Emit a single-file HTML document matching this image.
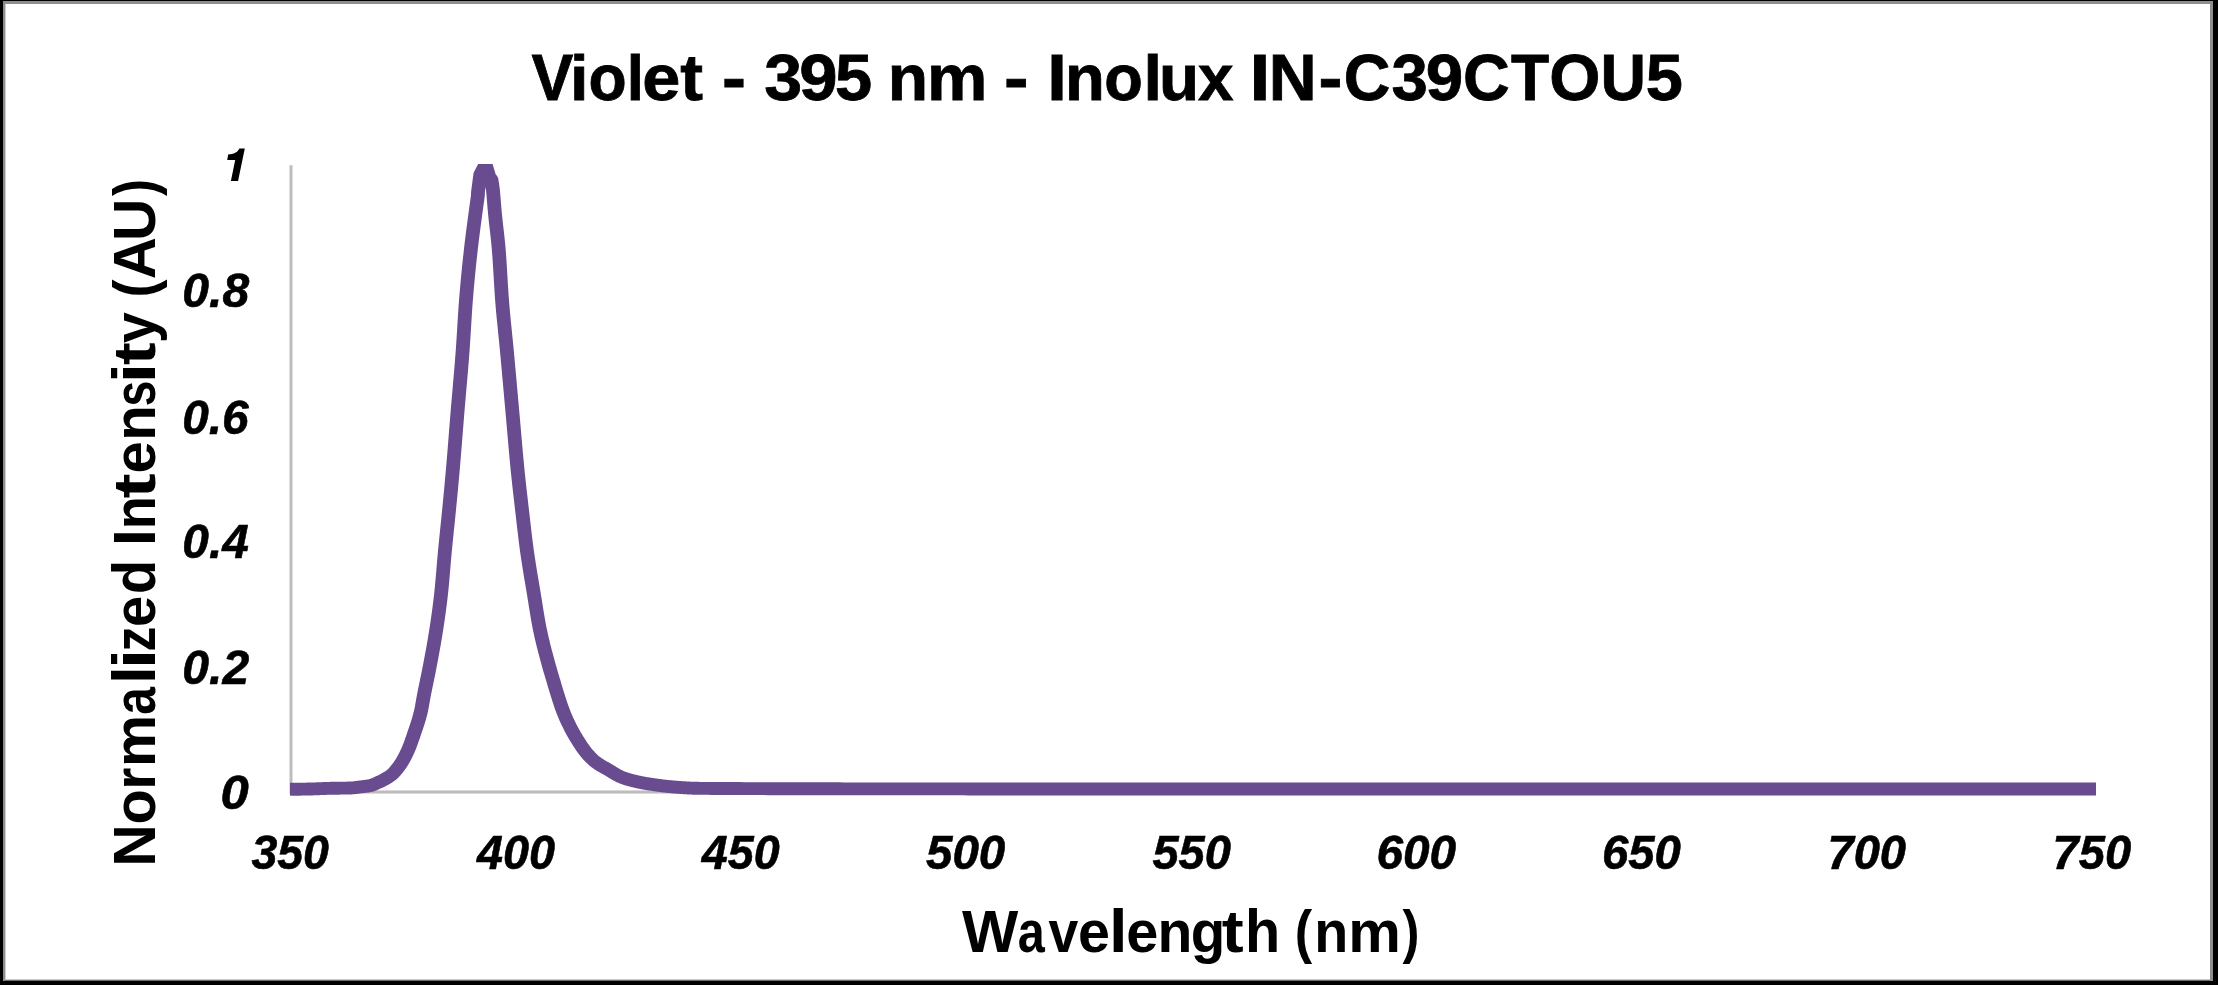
<!DOCTYPE html>
<html><head><meta charset="utf-8"><style>
html,body{margin:0;padding:0;background:#000;}
body{width:2218px;height:985px;overflow:hidden;position:relative;}
svg{position:absolute;left:0;top:0;display:block;will-change:transform;}
text{font-family:"Liberation Sans",sans-serif;fill:#000;}
</style></head><body>
<svg width="2218" height="985" viewBox="0 0 2218 985">
<rect x="0" y="0" width="2218" height="985" fill="#000"/>
<rect x="3" y="1" width="2210" height="980" fill="#8e8e8e"/>
<rect x="5" y="4" width="2205" height="976" fill="#fff"/>
<rect x="5" y="4" width="1" height="976" fill="#cfcfcf"/>
<rect x="5" y="979" width="2205" height="1" fill="#c8c8c8"/>
<rect x="5" y="980" width="2205" height="1" fill="#707070"/>
<defs><clipPath id="pa"><rect x="285" y="164.1" width="1830" height="640"/></clipPath></defs>
<g fill="none"><path d="M291,165 V792 H2092" stroke="#e4e4e4" stroke-width="3.8"/>
<path d="M291,165.5 V792 H2092" stroke="#bdbdbd" stroke-width="2.3"/></g>
<g clip-path="url(#pa)"><path transform="scale(1.07,1)" d="M271.03,789.30 L271.50,789.30 L271.96,789.29 L272.43,789.29 L272.90,789.29 L273.36,789.28 L273.83,789.28 L274.30,789.27 L274.77,789.27 L275.23,789.26 L275.70,789.26 L276.17,789.25 L276.64,789.25 L277.10,789.24 L277.57,789.23 L278.04,789.23 L278.50,789.22 L278.97,789.21 L279.44,789.20 L279.91,789.20 L280.37,789.19 L281.21,789.18 L281.68,789.17 L282.15,789.16 L282.62,789.15 L283.08,789.15 L283.55,789.14 L284.02,789.13 L284.49,789.12 L284.95,789.11 L285.42,789.10 L285.89,789.09 L286.36,789.08 L286.82,789.07 L287.29,789.06 L287.76,789.05 L288.22,789.04 L288.69,789.03 L289.16,789.02 L289.63,789.01 L290.09,789.00 L290.56,788.99 L291.03,788.98 L291.50,788.96 L291.96,788.95 L292.43,788.94 L292.90,788.92 L293.36,788.91 L293.83,788.89 L294.30,788.87 L294.77,788.86 L295.23,788.84 L295.70,788.82 L296.17,788.80 L296.64,788.78 L297.10,788.76 L297.57,788.74 L298.04,788.72 L298.50,788.70 L298.97,788.68 L299.44,788.66 L299.91,788.64 L300.37,788.62 L300.84,788.60 L301.31,788.58 L301.78,788.56 L302.24,788.54 L302.71,788.52 L303.18,788.50 L303.64,788.48 L304.11,788.46 L304.58,788.45 L305.05,788.43 L305.51,788.41 L305.98,788.39 L306.45,788.38 L306.92,788.36 L307.38,788.35 L307.85,788.34 L308.32,788.32 L308.79,788.31 L309.25,788.30 L309.72,788.29 L310.19,788.28 L310.65,788.27 L311.12,788.26 L311.59,788.25 L312.06,788.25 L312.52,788.24 L312.99,788.23 L313.46,788.23 L313.93,788.22 L314.39,788.21 L314.86,788.21 L315.33,788.20 L315.79,788.20 L316.26,788.19 L316.73,788.19 L317.20,788.18 L317.66,788.18 L318.13,788.17 L318.60,788.17 L319.07,788.16 L319.53,788.16 L320.00,788.15 L320.47,788.14 L320.93,788.14 L321.40,788.13 L321.87,788.12 L322.34,788.12 L322.80,788.11 L323.27,788.10 L323.74,788.09 L324.21,788.08 L324.67,788.07 L325.14,788.06 L325.61,788.05 L326.07,788.04 L326.54,788.03 L327.01,788.01 L327.48,788.00 L327.94,787.98 L328.41,787.96 L328.88,787.93 L329.35,787.89 L329.81,787.85 L330.28,787.81 L330.75,787.76 L331.21,787.70 L331.68,787.64 L332.15,787.58 L332.62,787.52 L333.08,787.46 L333.55,787.39 L334.02,787.32 L334.49,787.25 L334.95,787.19 L335.42,787.12 L335.89,787.05 L336.36,786.98 L336.82,786.91 L337.29,786.85 L337.76,786.79 L338.22,786.73 L338.69,786.67 L339.16,786.61 L339.63,786.56 L340.09,786.50 L340.56,786.44 L341.03,786.39 L341.50,786.33 L341.96,786.27 L342.43,786.21 L342.90,786.14 L343.36,786.07 L343.83,786.00 L344.30,785.92 L344.77,785.84 L345.23,785.75 L345.70,785.66 L346.17,785.56 L346.64,785.46 L347.10,785.33 L347.57,785.17 L348.04,785.00 L348.50,784.81 L348.97,784.61 L349.44,784.39 L349.91,784.17 L350.37,783.94 L350.84,783.71 L351.31,783.47 L351.78,783.25 L352.24,783.02 L352.71,782.79 L353.18,782.57 L353.64,782.34 L354.11,782.11 L354.58,781.89 L355.05,781.65 L355.51,781.42 L355.98,781.18 L356.45,780.95 L356.92,780.70 L357.38,780.46 L357.85,780.20 L358.32,779.95 L358.79,779.69 L359.25,779.42 L359.72,779.15 L360.19,778.87 L360.65,778.59 L361.12,778.29 L361.59,777.99 L362.06,777.68 L362.52,777.37 L362.99,777.04 L363.46,776.71 L363.93,776.37 L364.39,776.01 L364.86,775.65 L365.33,775.28 L365.79,774.89 L366.26,774.47 L366.73,774.03 L367.20,773.57 L367.66,773.08 L368.13,772.57 L368.60,772.04 L369.07,771.49 L369.53,770.93 L370.00,770.34 L370.47,769.74 L370.93,769.11 L371.40,768.48 L371.87,767.83 L372.34,767.16 L372.80,766.49 L373.27,765.80 L373.74,765.10 L374.21,764.38 L374.67,763.63 L375.14,762.86 L375.61,762.05 L376.07,761.22 L376.54,760.36 L377.01,759.48 L377.48,758.57 L377.94,757.63 L378.41,756.67 L378.88,755.69 L379.35,754.68 L379.81,753.65 L380.28,752.60 L380.75,751.53 L381.21,750.44 L381.68,749.32 L382.15,748.14 L382.62,746.91 L383.08,745.62 L383.55,744.28 L384.02,742.91 L384.49,741.51 L384.95,740.08 L385.42,738.63 L385.89,737.17 L386.36,735.71 L386.82,734.24 L387.29,732.78 L387.76,731.33 L388.22,729.88 L388.69,728.42 L389.16,726.95 L389.63,725.44 L390.09,723.90 L390.56,722.32 L391.03,720.67 L391.50,718.98 L391.96,717.26 L392.43,715.47 L392.90,713.58 L393.36,711.52 L393.83,709.25 L394.30,706.55 L394.77,703.61 L395.23,700.66 L395.70,697.94 L396.17,695.33 L396.64,692.78 L397.10,690.27 L397.57,687.80 L398.04,685.36 L398.50,682.94 L398.97,680.52 L399.44,678.10 L399.91,675.66 L400.37,673.20 L400.84,670.70 L401.31,668.16 L401.78,665.56 L402.24,662.91 L402.71,660.26 L403.18,657.60 L403.64,654.93 L404.11,652.24 L404.58,649.51 L405.05,646.74 L405.51,643.92 L405.98,641.04 L406.45,638.08 L406.92,635.05 L407.38,631.92 L407.85,628.70 L408.32,625.42 L408.79,622.08 L409.25,618.65 L409.72,615.12 L410.19,611.47 L410.65,607.69 L411.12,603.76 L411.59,599.66 L412.06,595.37 L412.52,590.88 L412.99,585.88 L413.46,580.38 L413.93,574.54 L414.39,568.54 L414.86,562.54 L415.33,556.70 L415.79,551.20 L416.26,546.02 L416.73,540.99 L417.20,536.08 L417.66,531.24 L418.13,526.42 L418.60,521.57 L419.07,516.66 L419.53,511.62 L420.00,506.48 L420.47,501.31 L420.93,496.10 L421.40,490.83 L421.87,485.49 L422.34,480.06 L422.80,474.52 L423.27,468.85 L423.74,463.02 L424.21,457.01 L424.67,450.88 L425.14,444.65 L425.61,438.36 L426.07,432.05 L426.54,425.75 L427.01,419.50 L427.48,413.34 L427.94,407.30 L428.41,401.41 L428.88,395.65 L429.35,389.94 L429.81,384.24 L430.28,378.49 L430.75,372.65 L431.21,366.66 L431.68,360.46 L432.15,354.01 L432.62,347.21 L433.08,339.67 L433.55,331.60 L434.02,323.34 L434.49,315.23 L434.95,307.60 L435.42,300.80 L435.89,294.67 L436.36,288.82 L436.82,283.21 L437.29,277.84 L437.76,272.68 L438.22,267.70 L438.69,262.87 L439.16,258.18 L439.63,253.60 L440.09,249.11 L440.56,244.77 L441.03,240.59 L441.50,236.54 L441.96,232.61 L442.43,228.77 L442.90,224.99 L443.36,221.24 L443.83,217.50 L444.30,213.75 L444.77,210.01 L445.23,206.35 L445.70,202.74 L446.17,199.15 L446.64,195.54 L446.73,191.87 L446.78,191.50 L448.88,174.50 L453.83,164.50 L457.29,177.00 L459.35,180.00 L460.56,188.70 L460.75,190.50 L461.21,195.95 L461.68,202.17 L462.15,208.44 L462.62,214.04 L463.08,218.96 L463.55,223.51 L464.02,227.86 L464.49,232.17 L464.95,236.62 L465.42,241.37 L465.89,246.58 L466.36,252.48 L466.82,259.55 L467.29,267.51 L467.76,275.93 L468.22,284.36 L468.69,292.37 L469.16,299.51 L469.63,305.69 L470.09,311.44 L470.56,316.84 L471.03,322.00 L471.50,326.98 L471.96,331.87 L472.43,336.75 L472.90,341.71 L473.36,346.82 L473.83,352.16 L474.30,357.58 L474.77,363.05 L475.23,368.55 L475.70,374.09 L476.17,379.65 L476.64,385.22 L477.10,390.81 L477.57,396.40 L478.04,401.99 L478.50,407.56 L478.97,413.13 L479.44,418.78 L479.91,424.51 L480.37,430.27 L480.84,436.05 L481.31,441.80 L481.78,447.49 L482.24,453.09 L482.71,458.56 L483.18,463.88 L483.64,469.00 L484.11,473.93 L484.58,478.71 L485.05,483.36 L485.51,487.90 L485.98,492.36 L486.45,496.75 L486.92,501.10 L487.38,505.42 L487.85,509.74 L488.32,514.07 L488.79,518.42 L489.25,522.77 L489.72,527.10 L490.19,531.38 L490.65,535.58 L491.12,539.69 L491.59,543.68 L492.06,547.52 L492.52,551.20 L492.99,554.72 L493.46,558.13 L493.93,561.44 L494.39,564.66 L494.86,567.80 L495.33,570.88 L495.79,573.92 L496.26,576.91 L496.73,579.88 L497.20,582.85 L497.66,585.81 L498.13,588.79 L498.60,591.80 L499.07,594.85 L499.53,597.94 L500.00,601.06 L500.47,604.18 L500.93,607.29 L501.40,610.38 L501.87,613.43 L502.34,616.42 L502.80,619.34 L503.27,622.18 L503.74,624.91 L504.21,627.52 L504.67,630.00 L505.14,632.37 L505.61,634.67 L506.07,636.91 L506.54,639.08 L507.01,641.21 L507.48,643.28 L507.94,645.31 L508.41,647.29 L508.88,649.24 L509.35,651.16 L509.81,653.06 L510.28,654.93 L510.75,656.79 L511.21,658.63 L511.68,660.46 L512.15,662.30 L512.62,664.13 L513.08,665.96 L513.55,667.74 L514.02,669.50 L514.49,671.23 L514.95,672.93 L515.42,674.62 L515.89,676.30 L516.36,677.98 L516.82,679.66 L517.29,681.35 L517.76,683.04 L518.22,684.72 L518.69,686.40 L519.16,688.06 L519.63,689.72 L520.09,691.35 L520.56,692.97 L521.03,694.57 L521.50,696.15 L521.96,697.73 L522.43,699.31 L522.90,700.88 L523.36,702.43 L523.83,703.96 L524.30,705.46 L524.77,706.93 L525.23,708.34 L525.70,709.71 L526.17,711.02 L526.64,712.29 L527.10,713.54 L527.57,714.75 L528.04,715.95 L528.50,717.11 L528.97,718.26 L529.44,719.38 L529.91,720.48 L530.37,721.56 L530.84,722.62 L531.31,723.66 L531.78,724.69 L532.24,725.70 L532.71,726.70 L533.18,727.68 L533.64,728.64 L534.11,729.59 L534.58,730.53 L535.05,731.45 L535.51,732.36 L535.98,733.26 L536.45,734.14 L536.92,735.01 L537.38,735.87 L537.85,736.72 L538.32,737.55 L538.79,738.38 L539.25,739.20 L539.72,740.00 L540.19,740.80 L540.65,741.59 L541.12,742.38 L541.59,743.16 L542.06,743.94 L542.52,744.71 L542.99,745.47 L543.46,746.22 L543.93,746.95 L544.39,747.68 L544.86,748.39 L545.33,749.09 L545.79,749.78 L546.26,750.44 L546.73,751.09 L547.20,751.73 L547.66,752.34 L548.13,752.94 L548.60,753.52 L549.07,754.10 L549.53,754.67 L550.00,755.23 L550.47,755.78 L550.93,756.32 L551.40,756.85 L551.87,757.37 L552.34,757.88 L552.80,758.38 L553.27,758.87 L553.74,759.35 L554.21,759.81 L554.67,760.26 L555.14,760.70 L555.61,761.12 L556.07,761.53 L556.54,761.92 L557.01,762.30 L557.48,762.67 L557.94,763.03 L558.41,763.38 L558.88,763.72 L559.35,764.05 L559.81,764.37 L560.28,764.69 L560.75,765.00 L561.21,765.30 L561.68,765.60 L562.15,765.90 L562.62,766.18 L563.08,766.47 L563.55,766.75 L564.02,767.04 L564.49,767.31 L564.95,767.59 L565.42,767.87 L565.89,768.15 L566.36,768.43 L566.82,768.71 L567.29,769.00 L567.76,769.28 L568.22,769.57 L568.69,769.87 L569.16,770.17 L569.63,770.47 L570.09,770.77 L570.56,771.07 L571.03,771.38 L571.50,771.69 L571.96,771.99 L572.43,772.30 L572.90,772.60 L573.36,772.91 L573.83,773.21 L574.30,773.51 L574.77,773.80 L575.23,774.10 L575.70,774.39 L576.17,774.67 L576.64,774.95 L577.10,775.23 L577.57,775.50 L578.04,775.76 L578.50,776.01 L578.97,776.26 L579.44,776.50 L579.91,776.73 L580.37,776.95 L580.84,777.17 L581.31,777.37 L581.78,777.56 L582.24,777.75 L582.71,777.93 L583.18,778.10 L583.64,778.28 L584.11,778.45 L584.58,778.61 L585.05,778.77 L585.51,778.93 L585.98,779.09 L586.45,779.24 L586.92,779.39 L587.38,779.54 L587.85,779.69 L588.32,779.83 L588.79,779.97 L589.25,780.11 L589.72,780.24 L590.19,780.37 L590.65,780.50 L591.12,780.63 L591.59,780.76 L592.06,780.88 L592.52,781.00 L592.99,781.12 L593.46,781.24 L593.93,781.36 L594.39,781.47 L594.86,781.59 L595.33,781.70 L595.79,781.81 L596.26,781.92 L596.73,782.03 L597.20,782.14 L597.66,782.24 L598.13,782.35 L598.60,782.45 L599.07,782.55 L599.53,782.65 L600.00,782.75 L600.47,782.84 L600.93,782.94 L601.40,783.03 L601.87,783.12 L602.34,783.21 L602.80,783.30 L603.27,783.38 L603.74,783.47 L604.21,783.55 L604.67,783.63 L605.14,783.71 L605.61,783.79 L606.07,783.87 L606.54,783.95 L607.01,784.02 L607.48,784.10 L607.94,784.17 L608.41,784.25 L608.88,784.32 L609.35,784.40 L609.81,784.47 L610.28,784.54 L610.75,784.62 L611.21,784.69 L611.68,784.76 L612.15,784.83 L612.62,784.91 L613.08,784.98 L613.55,785.05 L614.02,785.12 L614.49,785.19 L614.95,785.26 L615.42,785.32 L615.89,785.39 L616.36,785.46 L616.82,785.52 L617.29,785.59 L617.76,785.65 L618.22,785.72 L618.69,785.78 L619.16,785.84 L619.63,785.91 L620.09,785.97 L620.56,786.03 L621.03,786.08 L621.50,786.14 L621.96,786.20 L622.43,786.25 L622.90,786.31 L623.36,786.36 L623.83,786.41 L624.30,786.46 L624.77,786.51 L625.23,786.56 L625.70,786.61 L626.17,786.65 L626.64,786.70 L627.10,786.74 L627.57,786.78 L628.04,786.82 L628.50,786.86 L628.97,786.91 L629.44,786.95 L629.91,786.99 L630.37,787.03 L630.84,787.07 L631.31,787.11 L631.78,787.15 L632.24,787.19 L632.71,787.23 L633.18,787.27 L633.64,787.31 L634.11,787.34 L634.58,787.38 L635.05,787.42 L635.51,787.46 L635.98,787.50 L636.45,787.53 L636.92,787.57 L637.38,787.60 L637.85,787.64 L638.32,787.67 L638.79,787.71 L639.25,787.74 L639.72,787.78 L640.19,787.81 L640.65,787.84 L641.12,787.87 L641.59,787.90 L642.06,787.93 L642.52,787.96 L642.99,787.98 L643.46,788.01 L643.93,788.04 L644.39,788.06 L644.86,788.09 L645.33,788.11 L645.79,788.13 L646.26,788.15 L646.73,788.17 L647.20,788.19 L647.66,788.21 L648.13,788.22 L648.60,788.24 L649.07,788.25 L649.53,788.26 L650.00,788.27 L650.47,788.28 L650.93,788.29 L651.40,788.30 L651.87,788.30 L652.34,788.31 L652.80,788.32 L653.27,788.32 L653.74,788.33 L654.21,788.33 L657.94,788.37 L661.68,788.41 L665.42,788.44 L669.16,788.47 L672.90,788.49 L676.64,788.51 L680.37,788.53 L684.11,788.54 L687.85,788.56 L691.59,788.57 L695.33,788.59 L699.07,788.60 L702.80,788.62 L706.54,788.63 L710.28,788.65 L714.02,788.66 L717.76,788.68 L721.50,788.69 L725.23,788.70 L728.97,788.72 L732.71,788.73 L736.45,788.74 L740.19,788.75 L743.93,788.76 L747.66,788.77 L751.40,788.78 L755.14,788.79 L758.88,788.79 L762.62,788.80 L766.36,788.80 L770.09,788.81 L773.83,788.81 L777.57,788.81 L781.31,788.82 L785.05,788.82 L788.79,788.83 L792.52,788.83 L796.26,788.83 L800.00,788.84 L803.74,788.84 L807.48,788.84 L811.21,788.85 L814.95,788.85 L818.69,788.86 L822.43,788.86 L826.17,788.86 L829.91,788.87 L833.64,788.87 L837.38,788.87 L841.12,788.88 L844.86,788.88 L848.60,788.88 L852.34,788.89 L856.07,788.89 L859.81,788.89 L863.55,788.90 L867.29,788.90 L871.03,788.90 L874.77,788.90 L878.50,788.91 L882.24,788.91 L885.98,788.91 L889.72,788.92 L893.46,788.92 L897.20,788.92 L900.93,788.92 L904.67,788.93 L908.41,788.93 L912.15,788.93 L915.89,788.93 L919.63,788.94 L923.36,788.94 L927.10,788.94 L930.84,788.94 L934.58,788.95 L938.32,788.95 L942.06,788.95 L945.79,788.95 L949.53,788.95 L953.27,788.96 L957.01,788.96 L960.75,788.96 L964.49,788.96 L968.22,788.96 L971.96,788.96 L975.70,788.97 L979.44,788.97 L983.18,788.97 L986.92,788.97 L990.65,788.97 L994.39,788.97 L998.13,788.98 L1001.87,788.98 L1005.61,788.98 L1009.35,788.98 L1013.08,788.98 L1016.82,788.98 L1020.56,788.98 L1024.30,788.99 L1028.04,788.99 L1031.78,788.99 L1035.51,788.99 L1039.25,788.99 L1042.99,788.99 L1046.73,788.99 L1050.47,788.99 L1054.21,788.99 L1057.94,788.99 L1061.68,788.99 L1065.42,789.00 L1069.16,789.00 L1072.90,789.00 L1076.64,789.00 L1080.37,789.00 L1084.11,789.00 L1087.85,789.00 L1091.59,789.00 L1095.33,789.00 L1099.07,789.00 L1102.80,789.00 L1106.54,789.00 L1110.28,789.00 L1114.02,789.00 L1117.76,789.00 L1121.50,789.00 L1125.23,789.00 L1128.97,789.00 L1132.71,789.00 L1136.45,789.00 L1140.19,789.00 L1143.93,789.00 L1147.66,789.00 L1151.40,789.00 L1155.14,789.00 L1158.88,789.00 L1162.62,789.00 L1166.36,789.00 L1170.09,789.00 L1173.83,789.00 L1177.57,789.00 L1181.31,789.00 L1185.05,789.00 L1188.79,789.00 L1192.52,789.00 L1196.26,789.00 L1200.00,789.00 L1203.74,789.00 L1207.48,789.00 L1211.21,789.00 L1214.95,789.00 L1218.69,789.00 L1222.43,789.00 L1226.17,789.00 L1229.91,789.00 L1233.64,789.00 L1237.38,789.00 L1241.12,789.00 L1244.86,789.00 L1248.60,789.00 L1252.34,789.00 L1256.07,789.00 L1259.81,789.00 L1263.55,789.00 L1267.29,789.00 L1271.03,789.00 L1274.77,789.00 L1278.50,789.00 L1282.24,789.00 L1285.98,789.00 L1289.72,789.00 L1293.46,789.00 L1297.20,789.00 L1300.93,789.00 L1304.67,789.00 L1308.41,789.00 L1312.15,789.00 L1315.89,789.00 L1319.63,789.00 L1323.36,789.00 L1327.10,789.00 L1330.84,789.00 L1334.58,789.00 L1338.32,789.00 L1342.06,789.00 L1345.79,789.00 L1349.53,789.00 L1353.27,789.00 L1357.01,789.00 L1360.75,789.00 L1364.49,789.00 L1368.22,789.00 L1371.96,789.00 L1375.70,789.00 L1379.44,789.00 L1383.18,789.00 L1386.92,789.00 L1390.65,789.00 L1394.39,789.00 L1398.13,789.00 L1401.87,789.00 L1405.61,789.00 L1409.35,789.00 L1413.08,789.00 L1416.82,789.00 L1420.56,789.00 L1424.30,789.00 L1428.04,789.00 L1431.78,789.00 L1435.51,789.00 L1439.25,789.00 L1442.99,789.00 L1446.73,789.00 L1450.47,789.00 L1454.21,789.00 L1457.94,789.00 L1461.68,789.00 L1465.42,789.00 L1469.16,789.00 L1472.90,789.00 L1476.64,789.00 L1480.37,789.00 L1484.11,789.00 L1487.85,789.00 L1491.59,789.00 L1495.33,789.00 L1499.07,789.00 L1502.80,789.00 L1506.54,789.00 L1510.28,789.00 L1514.02,789.00 L1517.76,789.00 L1521.50,789.00 L1525.23,789.00 L1528.97,789.00 L1532.71,789.00 L1536.45,789.00 L1540.19,789.00 L1543.93,789.00 L1547.66,789.00 L1551.40,789.00 L1555.14,789.00 L1558.88,789.00 L1562.62,789.00 L1566.36,789.00 L1570.09,789.00 L1573.83,789.00 L1577.57,789.00 L1581.31,789.00 L1585.05,789.00 L1588.79,789.00 L1592.52,789.00 L1596.26,789.00 L1600.00,789.00 L1603.74,789.00 L1607.48,789.00 L1611.21,789.00 L1614.95,789.00 L1618.69,789.00 L1622.43,789.00 L1626.17,789.00 L1629.91,789.00 L1633.64,789.00 L1637.38,789.00 L1641.12,789.00 L1644.86,789.00 L1648.60,789.00 L1652.34,789.00 L1656.07,789.00 L1659.81,789.00 L1663.55,789.00 L1667.29,789.00 L1671.03,789.00 L1674.77,789.00 L1678.50,789.00 L1682.24,789.00 L1685.98,789.00 L1689.72,789.00 L1693.46,789.00 L1697.20,789.00 L1700.93,789.00 L1704.67,789.00 L1708.41,789.00 L1712.15,789.00 L1715.89,789.00 L1719.63,789.00 L1723.36,789.00 L1727.10,789.00 L1730.84,789.00 L1734.58,789.00 L1738.32,789.00 L1742.06,789.00 L1745.79,789.00 L1749.53,789.00 L1753.27,789.00 L1757.01,789.00 L1760.75,789.00 L1764.49,789.00 L1768.22,789.00 L1771.96,789.00 L1775.70,789.00 L1779.44,789.00 L1783.18,789.00 L1786.92,789.00 L1790.65,789.00 L1794.39,789.00 L1798.13,789.00 L1801.87,789.00 L1805.61,789.00 L1809.35,789.00 L1813.08,789.00 L1816.82,789.00 L1820.56,789.00 L1824.30,789.00 L1828.04,789.00 L1831.78,789.00 L1835.51,789.00 L1839.25,789.00 L1842.99,789.00 L1846.73,789.00 L1850.47,789.00 L1854.21,789.00 L1857.94,789.00 L1861.68,789.00 L1865.42,789.00 L1869.16,789.00 L1872.90,789.00 L1876.64,789.00 L1880.37,789.00 L1884.11,789.00 L1887.85,789.00 L1891.59,789.00 L1895.33,789.00 L1899.07,789.00 L1902.80,789.00 L1906.54,789.00 L1910.28,789.00 L1914.02,789.00 L1917.76,789.00 L1921.50,789.00 L1925.23,789.00 L1928.97,789.00 L1932.71,789.00 L1936.45,789.00 L1940.19,789.00 L1943.93,789.00 L1947.66,789.00 L1951.40,789.00 L1955.14,789.00 L1958.88,789.00" fill="none" stroke="#694b90" stroke-width="12.9" stroke-linejoin="round" stroke-linecap="butt"/></g>
<text x="531.50" y="99.9" font-size="65.2" font-weight="bold" stroke="#000" stroke-width="0.8" textLength="41.77" lengthAdjust="spacingAndGlyphs">V</text>
<text transform="translate(0,99.9) scale(1,0.956) translate(0,-99.9)" x="570.02" y="99.9" font-size="65.2" font-weight="bold" stroke="#000" stroke-width="0.8" textLength="18.49" lengthAdjust="spacingAndGlyphs">i</text>
<text x="588.38" y="99.9" font-size="65.2" font-weight="bold" stroke="#000" stroke-width="0.8" textLength="38.17" lengthAdjust="spacingAndGlyphs">o</text>
<text transform="translate(0,99.9) scale(1,0.956) translate(0,-99.9)" x="626.80" y="99.9" font-size="65.2" font-weight="bold" stroke="#000" stroke-width="0.8" textLength="17.22" lengthAdjust="spacingAndGlyphs">l</text>
<text x="642.30" y="99.9" font-size="65.2" font-weight="bold" stroke="#000" stroke-width="0.8" textLength="38.08" lengthAdjust="spacingAndGlyphs">e</text>
<text x="680.30" y="99.9" font-size="65.2" font-weight="bold" stroke="#000" stroke-width="0.8" textLength="22.75" lengthAdjust="spacingAndGlyphs">t</text>
<text x="721.99" y="99.9" font-size="65.2" font-weight="bold" stroke="#000" stroke-width="0.8" textLength="24.01" lengthAdjust="spacingAndGlyphs">-</text>
<text x="764.35" y="99.9" font-size="65.2" font-weight="bold" stroke="#000" stroke-width="0.8" textLength="37.91" lengthAdjust="spacingAndGlyphs">3</text>
<text x="799.19" y="99.9" font-size="65.2" font-weight="bold" stroke="#000" stroke-width="0.8" textLength="38.31" lengthAdjust="spacingAndGlyphs">9</text>
<text x="835.05" y="99.9" font-size="65.2" font-weight="bold" stroke="#000" stroke-width="0.8" textLength="37.14" lengthAdjust="spacingAndGlyphs">5</text>
<text x="887.85" y="99.9" font-size="65.2" font-weight="bold" stroke="#000" stroke-width="0.8" textLength="40.33" lengthAdjust="spacingAndGlyphs">n</text>
<text x="926.93" y="99.9" font-size="65.2" font-weight="bold" stroke="#000" stroke-width="0.8" textLength="60.40" lengthAdjust="spacingAndGlyphs">m</text>
<text x="1003.94" y="99.9" font-size="65.2" font-weight="bold" stroke="#000" stroke-width="0.8" textLength="24.49" lengthAdjust="spacingAndGlyphs">-</text>
<text x="1047.18" y="99.9" font-size="65.2" font-weight="bold" stroke="#000" stroke-width="0.8" textLength="19.57" lengthAdjust="spacingAndGlyphs">I</text>
<text x="1065.10" y="99.9" font-size="65.2" font-weight="bold" stroke="#000" stroke-width="0.8" textLength="39.83" lengthAdjust="spacingAndGlyphs">n</text>
<text x="1104.36" y="99.9" font-size="65.2" font-weight="bold" stroke="#000" stroke-width="0.8" textLength="38.61" lengthAdjust="spacingAndGlyphs">o</text>
<text transform="translate(0,99.9) scale(1,0.956) translate(0,-99.9)" x="1143.42" y="99.9" font-size="65.2" font-weight="bold" stroke="#000" stroke-width="0.8" textLength="18.49" lengthAdjust="spacingAndGlyphs">l</text>
<text x="1159.07" y="99.9" font-size="65.2" font-weight="bold" stroke="#000" stroke-width="0.8" textLength="40.08" lengthAdjust="spacingAndGlyphs">u</text>
<text x="1198.00" y="99.9" font-size="65.2" font-weight="bold" stroke="#000" stroke-width="0.8" textLength="35.46" lengthAdjust="spacingAndGlyphs">x</text>
<text x="1249.50" y="99.9" font-size="65.2" font-weight="bold" stroke="#000" stroke-width="0.8" textLength="20.84" lengthAdjust="spacingAndGlyphs">I</text>
<text x="1268.83" y="99.9" font-size="65.2" font-weight="bold" stroke="#000" stroke-width="0.8" textLength="47.92" lengthAdjust="spacingAndGlyphs">N</text>
<text x="1318.40" y="99.9" font-size="65.2" font-weight="bold" stroke="#000" stroke-width="0.8" textLength="23.89" lengthAdjust="spacingAndGlyphs">-</text>
<text x="1343.72" y="99.9" font-size="65.2" font-weight="bold" stroke="#000" stroke-width="0.8" textLength="46.64" lengthAdjust="spacingAndGlyphs">C</text>
<text x="1391.50" y="99.9" font-size="65.2" font-weight="bold" stroke="#000" stroke-width="0.8" textLength="36.38" lengthAdjust="spacingAndGlyphs">3</text>
<text x="1425.83" y="99.9" font-size="65.2" font-weight="bold" stroke="#000" stroke-width="0.8" textLength="37.51" lengthAdjust="spacingAndGlyphs">9</text>
<text x="1463.01" y="99.9" font-size="65.2" font-weight="bold" stroke="#000" stroke-width="0.8" textLength="46.75" lengthAdjust="spacingAndGlyphs">C</text>
<text x="1511.00" y="99.9" font-size="65.2" font-weight="bold" stroke="#000" stroke-width="0.8" textLength="38.14" lengthAdjust="spacingAndGlyphs">T</text>
<text x="1549.18" y="99.9" font-size="65.2" font-weight="bold" stroke="#000" stroke-width="0.8" textLength="51.16" lengthAdjust="spacingAndGlyphs">O</text>
<text x="1600.50" y="99.9" font-size="65.2" font-weight="bold" stroke="#000" stroke-width="0.8" textLength="45.47" lengthAdjust="spacingAndGlyphs">U</text>
<text x="1645.65" y="99.9" font-size="65.2" font-weight="bold" stroke="#000" stroke-width="0.8" textLength="37.14" lengthAdjust="spacingAndGlyphs">5</text>
<text x="251.40" y="868.8" font-size="48.3" font-weight="bold" font-style="italic" stroke="#000" stroke-width="0.6" textLength="77.57" lengthAdjust="spacingAndGlyphs">350</text>
<text x="476.97" y="868.8" font-size="48.3" font-weight="bold" font-style="italic" stroke="#000" stroke-width="0.6" textLength="77.91" lengthAdjust="spacingAndGlyphs">400</text>
<text x="701.77" y="868.8" font-size="48.3" font-weight="bold" font-style="italic" stroke="#000" stroke-width="0.6" textLength="77.81" lengthAdjust="spacingAndGlyphs">450</text>
<text x="926.00" y="868.8" font-size="48.3" font-weight="bold" font-style="italic" stroke="#000" stroke-width="0.6" textLength="79.28" lengthAdjust="spacingAndGlyphs">500</text>
<text x="1152.40" y="868.8" font-size="48.3" font-weight="bold" font-style="italic" stroke="#000" stroke-width="0.6" textLength="78.48" lengthAdjust="spacingAndGlyphs">550</text>
<text x="1376.42" y="868.8" font-size="48.3" font-weight="bold" font-style="italic" stroke="#000" stroke-width="0.6" textLength="79.66" lengthAdjust="spacingAndGlyphs">600</text>
<text x="1602.04" y="868.8" font-size="48.3" font-weight="bold" font-style="italic" stroke="#000" stroke-width="0.6" textLength="78.84" lengthAdjust="spacingAndGlyphs">650</text>
<text x="1827.48" y="868.8" font-size="48.3" font-weight="bold" font-style="italic" stroke="#000" stroke-width="0.6" textLength="78.50" lengthAdjust="spacingAndGlyphs">700</text>
<text x="2052.58" y="868.8" font-size="48.3" font-weight="bold" font-style="italic" stroke="#000" stroke-width="0.6" textLength="78.50" lengthAdjust="spacingAndGlyphs">750</text>
<path d="M230.9,181.0 L238.05,181.0 L244.8,148.5 L239.4,148.5 C238.5,150.5 236.5,153 232,154 L228.2,154.5 L227.2,159.9 L235.2,159.9 Z" fill="#000"/>
<text x="182.31" y="306.8" font-size="48.3" font-weight="bold" font-style="italic" stroke="#000" stroke-width="0.6" textLength="66.83" lengthAdjust="spacingAndGlyphs">0.8</text>
<text x="182.32" y="433.5" font-size="48.3" font-weight="bold" font-style="italic" stroke="#000" stroke-width="0.6" textLength="66.33" lengthAdjust="spacingAndGlyphs">0.6</text>
<text x="182.32" y="558.0" font-size="48.3" font-weight="bold" font-style="italic" stroke="#000" stroke-width="0.6" textLength="66.42" lengthAdjust="spacingAndGlyphs">0.4</text>
<text x="182.31" y="683.9" font-size="48.3" font-weight="bold" font-style="italic" stroke="#000" stroke-width="0.6" textLength="66.83" lengthAdjust="spacingAndGlyphs">0.2</text>
<text x="220.60" y="809.0" font-size="48.3" font-weight="bold" font-style="italic" stroke="#000" stroke-width="0.6" textLength="28.27" lengthAdjust="spacingAndGlyphs">0</text>
<text x="962.00" y="951.7" font-size="59.3" font-weight="bold" textLength="56.27" lengthAdjust="spacingAndGlyphs">W</text>
<text x="1017.76" y="951.7" font-size="59.3" font-weight="bold" textLength="27.03" lengthAdjust="spacingAndGlyphs">a</text>
<text x="1048.60" y="951.7" font-size="59.3" font-weight="bold" textLength="29.79" lengthAdjust="spacingAndGlyphs">v</text>
<text x="1078.06" y="951.7" font-size="59.3" font-weight="bold" textLength="31.96" lengthAdjust="spacingAndGlyphs">e</text>
<text transform="translate(0,951.7) scale(1,1.035) translate(0,-951.7)" x="1109.00" y="951.7" font-size="59.3" font-weight="bold" textLength="18.54" lengthAdjust="spacingAndGlyphs">l</text>
<text x="1126.16" y="951.7" font-size="59.3" font-weight="bold" textLength="32.07" lengthAdjust="spacingAndGlyphs">e</text>
<text x="1157.55" y="951.7" font-size="59.3" font-weight="bold" textLength="34.86" lengthAdjust="spacingAndGlyphs">n</text>
<text x="1190.69" y="951.7" font-size="59.3" font-weight="bold" textLength="34.54" lengthAdjust="spacingAndGlyphs">g</text>
<text x="1221.79" y="951.7" font-size="59.3" font-weight="bold" textLength="21.94" lengthAdjust="spacingAndGlyphs">t</text>
<text transform="translate(0,951.7) scale(1,1.035) translate(0,-951.7)" x="1244.91" y="951.7" font-size="59.3" font-weight="bold" textLength="35.23" lengthAdjust="spacingAndGlyphs">h</text>
<text x="1294.86" y="951.7" font-size="59.3" font-weight="bold" textLength="17.40" lengthAdjust="spacingAndGlyphs">(</text>
<text x="1314.15" y="951.7" font-size="59.3" font-weight="bold" textLength="33.99" lengthAdjust="spacingAndGlyphs">n</text>
<text x="1348.21" y="951.7" font-size="59.3" font-weight="bold" textLength="52.62" lengthAdjust="spacingAndGlyphs">m</text>
<text x="1402.50" y="951.7" font-size="59.3" font-weight="bold" textLength="16.96" lengthAdjust="spacingAndGlyphs">)</text>
<g transform="translate(155.0,0) rotate(-90)"><text x="-866.67" y="0" font-size="59.3" font-weight="bold" textLength="42.46" lengthAdjust="spacingAndGlyphs">N</text><text x="-824.44" y="0" font-size="59.3" font-weight="bold" textLength="35.22" lengthAdjust="spacingAndGlyphs">o</text><text x="-789.74" y="0" font-size="59.3" font-weight="bold" textLength="22.18" lengthAdjust="spacingAndGlyphs">r</text><text x="-767.06" y="0" font-size="59.3" font-weight="bold" textLength="52.15" lengthAdjust="spacingAndGlyphs">m</text><text x="-714.78" y="0" font-size="59.3" font-weight="bold" textLength="27.66" lengthAdjust="spacingAndGlyphs">a</text><text transform="scale(1,1.035)" x="-684.00" y="0" font-size="59.3" font-weight="bold" textLength="17.72" lengthAdjust="spacingAndGlyphs">l</text><text transform="scale(1,1.03)" x="-669.20" y="0" font-size="59.3" font-weight="bold" textLength="20.61" lengthAdjust="spacingAndGlyphs">i</text><text x="-651.48" y="0" font-size="59.3" font-weight="bold" textLength="24.91" lengthAdjust="spacingAndGlyphs">z</text><text x="-626.99" y="0" font-size="59.3" font-weight="bold" textLength="31.16" lengthAdjust="spacingAndGlyphs">e</text><text transform="scale(1,1.035)" x="-594.09" y="0" font-size="59.3" font-weight="bold" textLength="34.18" lengthAdjust="spacingAndGlyphs">d</text><text x="-546.09" y="0" font-size="59.3" font-weight="bold" textLength="16.85" lengthAdjust="spacingAndGlyphs">I</text><text x="-529.16" y="0" font-size="59.3" font-weight="bold" textLength="33.11" lengthAdjust="spacingAndGlyphs">n</text><text x="-498.47" y="0" font-size="59.3" font-weight="bold" textLength="25.13" lengthAdjust="spacingAndGlyphs">t</text><text x="-473.55" y="0" font-size="59.3" font-weight="bold" textLength="32.19" lengthAdjust="spacingAndGlyphs">e</text><text x="-440.82" y="0" font-size="59.3" font-weight="bold" textLength="35.48" lengthAdjust="spacingAndGlyphs">n</text><text x="-406.46" y="0" font-size="59.3" font-weight="bold" textLength="25.80" lengthAdjust="spacingAndGlyphs">s</text><text transform="scale(1,1.03)" x="-383.45" y="0" font-size="59.3" font-weight="bold" textLength="20.81" lengthAdjust="spacingAndGlyphs">i</text><text x="-364.95" y="0" font-size="59.3" font-weight="bold" textLength="22.71" lengthAdjust="spacingAndGlyphs">t</text><text x="-343.14" y="0" font-size="59.3" font-weight="bold" textLength="31.07" lengthAdjust="spacingAndGlyphs">y</text><text x="-297.44" y="0" font-size="59.3" font-weight="bold" textLength="18.02" lengthAdjust="spacingAndGlyphs">(</text><text x="-279.26" y="0" font-size="59.3" font-weight="bold" textLength="42.06" lengthAdjust="spacingAndGlyphs">A</text><text x="-241.07" y="0" font-size="59.3" font-weight="bold" textLength="42.46" lengthAdjust="spacingAndGlyphs">U</text><text x="-196.00" y="0" font-size="59.3" font-weight="bold" textLength="16.96" lengthAdjust="spacingAndGlyphs">)</text></g>
</svg></body></html>
